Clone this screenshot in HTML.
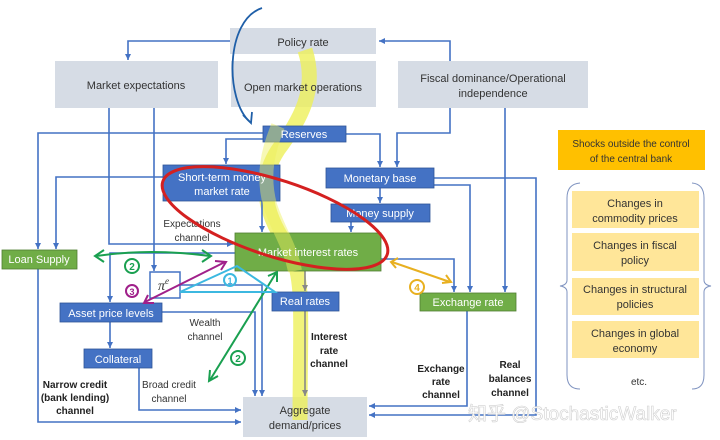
<!DOCTYPE html>
<html><head><meta charset="utf-8">
<style>
body{margin:0;background:#fff;}
svg{display:block;font-family:"Liberation Sans","Noto Sans CJK SC",sans-serif;}
</style></head><body>
<svg width="720" height="440" viewBox="0 0 720 440" xmlns="http://www.w3.org/2000/svg">
<defs>
<marker id="a" markerWidth="8" markerHeight="8" refX="6" refY="3" orient="auto" markerUnits="userSpaceOnUse"><path d="M0,0 L6,3 L0,6 z" fill="#4472C4"/></marker>
<marker id="ga" markerWidth="8" markerHeight="8" refX="6" refY="3" orient="auto" markerUnits="userSpaceOnUse"><path d="M0,0 L6,3 L0,6 z" fill="#888"/></marker>
</defs>
<!-- gray boxes -->
<g fill="#D6DCE5">
<rect x="230" y="28" width="146" height="26"/>
<rect x="55" y="61" width="163" height="47"/>
<rect x="231" y="61" width="145" height="46"/>
<rect x="398" y="61" width="190" height="47"/>
<rect x="243" y="397" width="124" height="40"/>
</g>
<!-- yellow highlight -->
<path d="M305,50 C 318,90 300,120 278,150 C 255,185 268,220 290,250 C 305,280 300,320 300,420" stroke="#eef05a" stroke-width="15" fill="none" opacity="0.8"/>
<g font-size="11" fill="#333" text-anchor="middle">
<text x="303" y="46">Policy rate</text>
<text x="136" y="89">Market expectations</text>
<text x="303" y="91">Open market operations</text>
<text x="493" y="82">Fiscal dominance/Operational</text>
<text x="493" y="97">independence</text>
<text x="305" y="414">Aggregate</text>
<text x="305" y="429">demand/prices</text>
</g>
<!-- connectors -->
<g stroke="#4472C4" stroke-width="1.6" fill="none">
<path d="M230,41 H128 V60" marker-end="url(#a)"/>
<path d="M450,61 V41 H379" marker-end="url(#a)"/>
<path d="M450,108 V133 H397 V167" marker-end="url(#a)"/>
<path d="M505,108 V292" marker-end="url(#a)"/>
<path d="M346,134 H380 V167" marker-end="url(#a)"/>
<path d="M263,133 H38 V249" marker-end="url(#a)"/>
<path d="M263,139 H226 V164" marker-end="url(#a)"/>
<path d="M163,177 H56 V249" marker-end="url(#a)"/>
<path d="M262,200 V232" marker-end="url(#a)"/>
<path d="M380,188 V203" marker-end="url(#a)"/>
<path d="M351,222 V232" marker-end="url(#a)"/>
<path d="M434,178 H536 V415 H369" marker-end="url(#a)"/>
<path d="M434,185 H470 V292" marker-end="url(#a)"/>
<path d="M381,259 H454 V292" marker-end="url(#a)"/>
<path d="M467,311 V406 H369" marker-end="url(#a)"/>
<path d="M109,108 V244 H233" marker-end="url(#a)"/>
<path d="M154,108 V271" marker-end="url(#a)"/>
<path d="M235,253 H110 V302" marker-end="url(#a)"/>
<path d="M38,269 V422 H241" marker-end="url(#a)"/>
<path d="M180,285 H262 V396" marker-end="url(#a)"/>
<path d="M162,312 H255 V396" marker-end="url(#a)"/>
<path d="M110,322 V348" marker-end="url(#a)"/>
<path d="M139,368 V410 H241" marker-end="url(#a)"/>
<path d="M305,271 V291" stroke="#888" marker-end="url(#ga)"/>
<path d="M305,311 V396" stroke="#888" marker-end="url(#ga)"/>
</g>
<!-- blue boxes -->
<g fill="#4472C4" stroke="#2F5597" stroke-width="0.8">
<rect x="263" y="126" width="83" height="16"/>
<rect x="163" y="165" width="117" height="36"/>
<rect x="326" y="168" width="108" height="20"/>
<rect x="331" y="204" width="99" height="18"/>
<rect x="60" y="303" width="102" height="19"/>
<rect x="272" y="292" width="67" height="19"/>
<rect x="84" y="349" width="68" height="19"/>
</g>
<g fill="#70AD47" stroke="#507E32" stroke-width="0.8">
<rect x="235" y="233" width="146" height="38"/>
<rect x="2" y="250" width="75" height="19"/>
<rect x="420" y="293" width="96" height="18"/>
</g>
<path d="M278,126 C 268,150 262,175 270,205 C 278,230 290,245 295,271" stroke="#eef05a" stroke-width="14" fill="none" opacity="0.45"/>
<rect x="150" y="272" width="30" height="26" fill="#fff" stroke="#4472C4" stroke-width="1.5"/>
<text x="158" y="290" font-family="Liberation Serif,serif" font-style="italic" font-size="14" fill="#333">π<tspan font-size="9" dy="-6">e</tspan></text>
<g font-size="11" fill="#fff" text-anchor="middle">
<text x="304" y="138">Reserves</text>
<text x="222" y="181">Short-term money</text>
<text x="222" y="195">market rate</text>
<text x="380" y="182">Monetary base</text>
<text x="380" y="217">Money supply</text>
<text x="308" y="256">Market interest rates</text>
<text x="39" y="263">Loan Supply</text>
<text x="111" y="317">Asset price levels</text>
<text x="305" y="305">Real rates</text>
<text x="118" y="363">Collateral</text>
<text x="468" y="306">Exchange rate</text>
</g>
<g font-size="10" fill="#333" text-anchor="middle">
<text x="192" y="227">Expectations</text>
<text x="192" y="241">channel</text>
<text x="205" y="326">Wealth</text>
<text x="205" y="340">channel</text>
<text x="169" y="388">Broad credit</text>
<text x="169" y="402">channel</text>
</g>
<g font-size="10" fill="#222" font-weight="bold" text-anchor="middle">
<text x="75" y="388">Narrow credit</text>
<text x="75" y="401">(bank lending)</text>
<text x="75" y="414">channel</text>
<text x="329" y="340">Interest</text>
<text x="329" y="354">rate</text>
<text x="329" y="367">channel</text>
<text x="441" y="372">Exchange</text>
<text x="441" y="385">rate</text>
<text x="441" y="398">channel</text>
<text x="510" y="368">Real</text>
<text x="510" y="382">balances</text>
<text x="510" y="396">channel</text>
</g>
<!-- right panel -->
<rect x="558" y="130" width="147" height="40" fill="#FFC000"/>
<g font-size="10" fill="#333" text-anchor="middle">
<text x="631" y="147">Shocks outside the control</text>
<text x="631" y="162">of the central bank</text>
</g>
<g fill="#FFE699">
<rect x="572" y="191" width="127" height="37"/>
<rect x="572" y="233" width="127" height="38"/>
<rect x="572" y="278" width="127" height="37"/>
<rect x="572" y="321" width="127" height="37"/>
</g>
<g font-size="11" fill="#333" text-anchor="middle">
<text x="635" y="207">Changes in</text>
<text x="635" y="222">commodity  prices</text>
<text x="635" y="249">Changes in fiscal</text>
<text x="635" y="264">policy</text>
<text x="635" y="293">Changes in structural</text>
<text x="635" y="308">policies</text>
<text x="635" y="337">Changes in global</text>
<text x="635" y="352">economy</text>
<text x="639" y="385" font-size="10">etc.</text>
</g>
<g stroke="#7f93c0" stroke-width="1" fill="none">
<path d="M580,183 Q567,184 567,198 V280 Q567,285 560,286 Q567,287 567,292 V375 Q567,389 580,389"/>
<path d="M692,183 Q704,184 704,198 V280 Q704,285 711,286 Q704,287 704,292 V375 Q704,389 692,389"/>
</g>
<!-- annotations -->
<ellipse cx="275" cy="218" rx="118" ry="38" transform="rotate(18 275 218)" fill="none" stroke="#d42020" stroke-width="3"/>
<path d="M262,8 C 225,20 225,100 250,122" stroke="#1f5fa8" stroke-width="1.8" fill="none"/>
<path d="M243,115 L251,123 L252,112" stroke="#1f5fa8" stroke-width="1.8" fill="none"/>
<g stroke="#1aa050" stroke-width="2" fill="none">
<path d="M96,256 Q150,248 210,256"/><path d="M104,250 L95,256 L104,262"/><path d="M202,250 L211,256 L202,262"/>
<path d="M276,273 L210,380"/><path d="M268,276 L277,272 L277,282"/><path d="M210,370 L209,381 L218,376"/>
<circle cx="132" cy="266" r="7"/><circle cx="238" cy="358" r="7"/>
</g>
<g font-size="10" fill="#1aa050" text-anchor="middle" font-weight="bold"><text x="132" y="270">2</text><text x="238" y="362">2</text></g>
<g stroke="#a0208a" stroke-width="2" fill="none">
<path d="M225,262 L145,302"/><path d="M215,261 L226,262 L221,270"/><path d="M148,295 L144,303 L154,303"/>
<circle cx="132" cy="291" r="6"/>
</g>
<text x="132" y="295" font-size="9" fill="#a0208a" text-anchor="middle" font-weight="bold">3</text>
<g stroke="#3cb8e0" stroke-width="2" fill="none">
<path d="M237,266 L180,292 H275 Z"/><circle cx="230" cy="280" r="6"/>
</g>
<text x="230" y="284" font-size="9" fill="#3cb8e0" text-anchor="middle" font-weight="bold">1</text>
<g stroke="#e8b020" stroke-width="2" fill="none">
<path d="M392,262 L450,282"/><path d="M398,258 L391,262 L396,268"/><path d="M442,283 L451,282 L446,275"/>
<circle cx="417" cy="287" r="7"/>
</g>
<text x="417" y="291" font-size="10" fill="#e8b020" text-anchor="middle" font-weight="bold">4</text>
<text x="468" y="420" font-size="19" fill="#fff" stroke="#d0d0d0" stroke-width="0.6">知乎 @StochasticWalker</text>
</svg>
</body></html>
